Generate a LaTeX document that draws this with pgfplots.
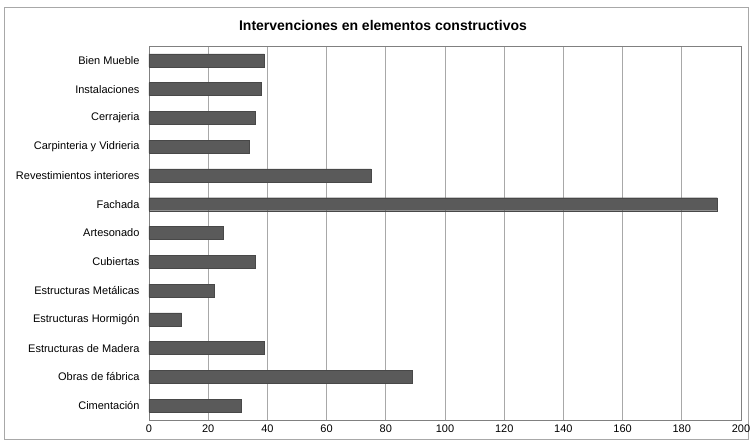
\documentclass[border=0pt]{standalone}
\usepackage{pgfplots}
\pgfplotsset{compat=1.18}
\usepackage{fontspec}
\setmainfont{Liberation Sans}
\definecolor{barfill}{HTML}{5A5A5A}
\definecolor{gridc}{HTML}{A8A8A8}
\definecolor{axisc}{HTML}{808080}
\begin{document}
\begin{tikzpicture}[x=1pt,y=1pt]
\useasboundingbox (-149,-23) rectangle (603,420);
\draw[gridc, line width=1pt] (-144,-20) rectangle (599,412);
\node[font=\fontsize{14}{16}\selectfont\bfseries] at (234,394) {Intervenciones en elementos constructivos};
\begin{axis}[
    at={(0,0)}, anchor=south west,
    scale only axis,
    width=592pt, height=374pt,
    xbar,
    bar width=13pt,
    xmin=0, xmax=200,
    ymin=-0.5, ymax=12.5,
    xtick={0,20,...,200},
    ytick={0,...,12},
    yticklabels={Cimentación\hspace{4pt},Obras de fábrica,Estructuras de Madera,Estructuras Hormigón\hspace{4pt},Estructuras Metálicas,Cubiertas,Artesonado,Fachada,Revestimientos interiores,Carpinteria y Vidrieria,Cerrajeria,Instalaciones,Bien Mueble},
    major tick length=0pt,
    xmajorgrids=true,
    grid style={gridc, line width=0.9pt},
    axis line style={axisc, line width=0.9pt},
    tick label style={font=\fontsize{11}{13}\selectfont},
    /pgf/number format/assume math mode=true,
    yticklabel style={xshift=-6pt},
    xticklabel style={yshift=-1pt},
]
\addplot[fill=barfill, draw=barfill!80!black] coordinates {
    (31,0)
    (89,1)
    (39,2)
    (11,3)
    (22,4)
    (36,5)
    (25,6)
    (192,7)
    (75,8)
    (34,9)
    (36,10)
    (38,11)
    (39,12)
};
\end{axis}
\end{tikzpicture}
\end{document}
